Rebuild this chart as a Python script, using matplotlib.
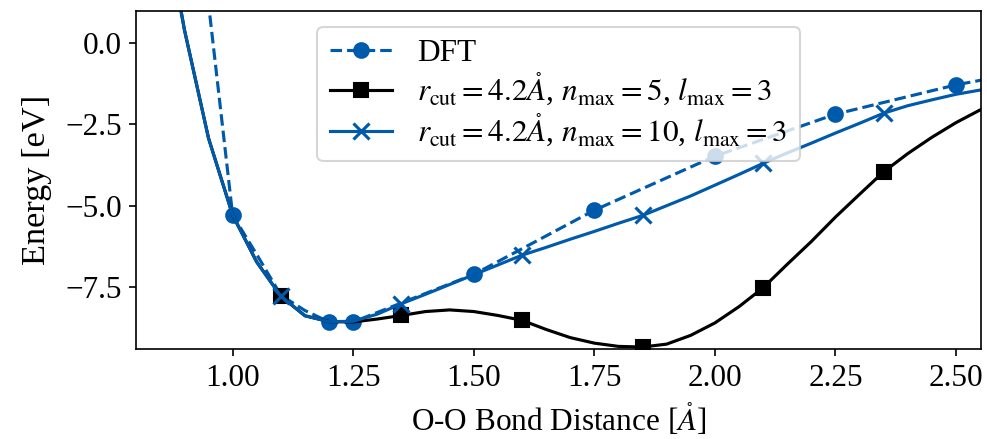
import numpy as np
import matplotlib
matplotlib.use("Agg")
import matplotlib.pyplot as plt

plt.rcParams['font.family'] = ['Liberation Serif', 'DejaVu Serif']
plt.rcParams['mathtext.fontset'] = 'stix'
plt.rcParams['font.size'] = 15

blue = '#005aab'

# DFT reference energies (eV) vs O-O distance (A)
dft_x = [0.90, 0.95, 1.00, 1.05, 1.10, 1.15, 1.20, 1.25, 1.50, 1.75, 2.00, 2.25, 2.50, 2.75]
dft_y = [7.0, 1.2, -5.29, -6.50, -7.75, -8.22, -8.57, -8.57, -7.11, -5.14, -3.48, -2.19, -1.29, -0.60]
dft_marks = [2, 6, 7, 8, 9, 10, 11, 12]

# model predictions on a 0.05 A grid
grid_x = [0.85, 0.90, 0.95, 1.00, 1.05, 1.10, 1.15, 1.20, 1.25, 1.30, 1.35, 1.40,
          1.45, 1.50, 1.55, 1.60, 1.65, 1.70, 1.75, 1.80, 1.85, 1.90, 1.95, 2.00,
          2.05, 2.10, 2.15, 2.20, 2.25, 2.30, 2.35, 2.40, 2.45, 2.50, 2.55]
n5_y = [4.5, 0.4, -2.93, -5.29, -6.73, -7.78, -8.38, -8.56, -8.57, -8.48, -8.37, -8.25,
        -8.20, -8.25, -8.37, -8.52, -8.80, -9.05, -9.22, -9.32, -9.34, -9.25, -8.98, -8.60,
        -8.10, -7.52, -6.80, -6.10, -5.35, -4.65, -3.96, -3.40, -2.90, -2.45, -2.06]
n10_y = [4.5, 0.4, -2.93, -5.29, -6.73, -7.78, -8.38, -8.56, -8.55, -8.33, -8.01, -7.72,
         -7.42, -7.12, -6.82, -6.52, -6.28, -6.03, -5.79, -5.54, -5.30, -5.00, -4.70, -4.37,
         -4.04, -3.70, -3.38, -3.08, -2.77, -2.47, -2.16, -1.93, -1.75, -1.58, -1.45]
model_marks = [5, 10, 15, 20, 25, 30]

ang = r'\mathring{A}'

fig, ax = plt.subplots(figsize=(6.58, 2.927), dpi=150)
fig.subplots_adjust(left=0.138, right=0.994, top=0.975, bottom=0.205)

ax.plot(dft_x, dft_y, '--o', color=blue, markevery=dft_marks, markersize=7,
        label='DFT')
ax.plot(grid_x, n5_y, '-s', color='k', markevery=model_marks, markersize=7,
        label=r'$r_{\rm cut} = 4.2' + ang + r'$, $n_{\rm max} = 5$, $l_{\rm max} = 3$')
ax.plot(grid_x, n10_y, '-x', color=blue, markevery=model_marks, markersize=8,
        markeredgewidth=1.5,
        label=r'$r_{\rm cut} = 4.2' + ang + r'$, $n_{\rm max} = 10$, $l_{\rm max} = 3$')

ax.set_xlim(0.8, 2.552)
ax.set_ylim(-9.4, 0.98)
ax.set_xticks([1.0, 1.25, 1.5, 1.75, 2.0, 2.25, 2.5])
ax.set_yticks([0.0, -2.5, -5.0, -7.5])
ax.set_xlabel('O-O Bond Distance [$' + ang + '$]')
ax.set_ylabel('Energy [eV]', fontsize=16.5, labelpad=6)
ax.legend(loc='upper center', labelspacing=0.1)

fig.savefig('out.png', dpi=150)
